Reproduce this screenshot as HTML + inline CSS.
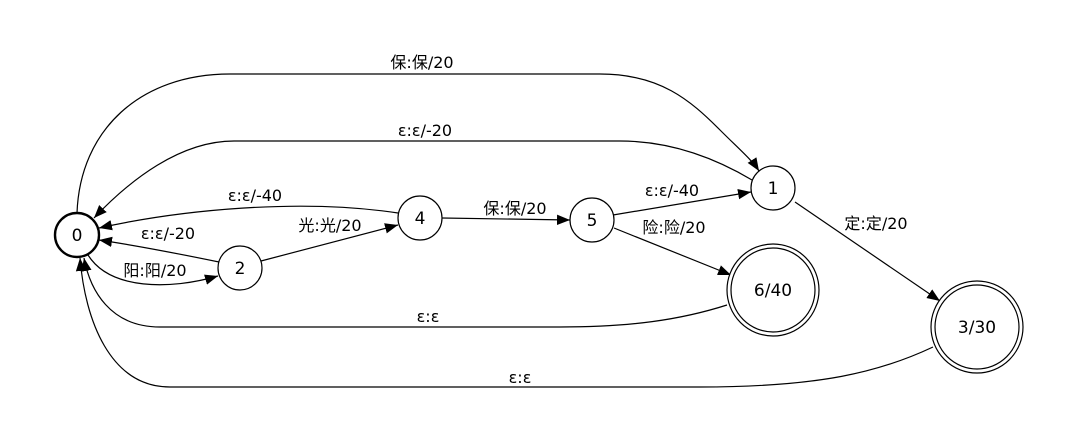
<!DOCTYPE html>
<html><head><meta charset="utf-8"><style>
html,body{margin:0;padding:0;background:#fff;}
svg{display:block;}
text{font-family:"DejaVu Sans","Noto Sans CJK SC",sans-serif;font-size:16px;fill:#000;text-anchor:middle;}
text.n{font-size:17px;}
.e{fill:none;stroke:#000;stroke-width:1.2;}
</style></head><body>
<svg width="1080" height="442" viewBox="0 0 1080 442" xmlns="http://www.w3.org/2000/svg">
<defs>
<marker id="a" viewBox="0 0 10 10" refX="10" refY="5" markerWidth="13" markerHeight="13" markerUnits="userSpaceOnUse" orient="auto">
<path d="M0,1 L10,5 L0,9 Z" fill="#000"/>
</marker>
</defs>
<path class="e" marker-end="url(#a)" d="M77,213 C80,130 140,74 230,74 L600,74 C660,74 690,100 720,130 C740,150 752,160 759,171"/>
<path class="e" marker-end="url(#a)" d="M752,180 C710,155 665,141 620,141 L234,141 C180,141 130,180 94,218"/>
<path class="e" marker-end="url(#a)" d="M398,213 C300,198 180,210 99,228"/>
<path class="e" marker-end="url(#a)" d="M219,262 C180,254 140,246 99,240"/>
<path class="e" marker-end="url(#a)" d="M88,255 C110,290 170,290 218,276"/>
<path class="e" marker-end="url(#a)" d="M261,261 L398,225"/>
<path class="e" marker-end="url(#a)" d="M442,218 L570,220"/>
<path class="e" marker-end="url(#a)" d="M613,215 L751,192"/>
<path class="e" marker-end="url(#a)" d="M614,228 L731,275"/>
<path class="e" marker-end="url(#a)" d="M795,202 L940,301"/>
<path class="e" marker-end="url(#a)" d="M727,305 C680,320 630,327 560,327 L160,327 C110,327 90,290 84,258"/>
<path class="e" marker-end="url(#a)" d="M933,347 C880,372 820,387 700,387 L170,387 C110,387 85,320 80,258"/>
<circle cx="77" cy="235" r="22" fill="#fff" stroke="#000" stroke-width="2.4"/>
<circle cx="240" cy="268" r="22" fill="#fff" stroke="#000" stroke-width="1.2"/>
<circle cx="420" cy="218" r="22" fill="#fff" stroke="#000" stroke-width="1.2"/>
<circle cx="592" cy="220" r="22" fill="#fff" stroke="#000" stroke-width="1.2"/>
<circle cx="773" cy="188" r="22" fill="#fff" stroke="#000" stroke-width="1.2"/>
<circle cx="773" cy="290" r="46" fill="#fff" stroke="#000" stroke-width="1.2"/>
<circle cx="773" cy="290" r="42" fill="none" stroke="#000" stroke-width="1.2"/>
<circle cx="977" cy="327" r="46" fill="#fff" stroke="#000" stroke-width="1.2"/>
<circle cx="977" cy="327" r="42" fill="none" stroke="#000" stroke-width="1.2"/>
<text class="n" x="77" y="241">0</text>
<text class="n" x="240" y="274">2</text>
<text class="n" x="420" y="224">4</text>
<text class="n" x="592" y="226">5</text>
<text class="n" x="773" y="194">1</text>
<text class="n" x="773" y="296">6/40</text>
<text class="n" x="977" y="333">3/30</text>
<text x="422" y="68">保:保/20</text>
<text x="425" y="136">ε:ε/-20</text>
<text x="255" y="201">ε:ε/-40</text>
<text x="168" y="239">ε:ε/-20</text>
<text x="155" y="276">阳:阳/20</text>
<text x="330" y="231">光:光/20</text>
<text x="515" y="214">保:保/20</text>
<text x="672" y="196">ε:ε/-40</text>
<text x="674" y="233">险:险/20</text>
<text x="876" y="229">定:定/20</text>
<text x="428" y="322">ε:ε</text>
<text x="520" y="383">ε:ε</text>
</svg>
</body></html>
